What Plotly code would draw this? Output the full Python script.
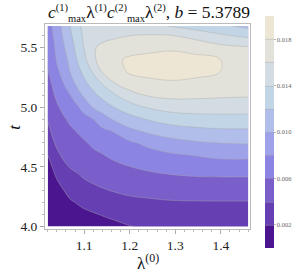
import plotly.graph_objects as go

# lambda^(0) grid (columns) and t grid (rows)
lam0 = [1.02, 1.03, 1.04, 1.055, 1.07, 1.085, 1.10, 1.12, 1.14, 1.17, 1.20, 1.24, 1.29, 1.34, 1.40, 1.46]
t_vals = [4.0, 4.1, 4.2, 4.3, 4.4, 4.5, 4.6, 4.7, 4.8, 4.9, 5.0, 5.1, 5.2, 5.3, 5.4, 5.5, 5.6, 5.68]

# product values, one list per lambda^(0) column (bottom -> top in t)
col_102 = [0.0005, 0.00075, 0.0010, 0.00125, 0.0015, 0.00175, 0.00199, 0.00274, 0.00348, 0.00413, 0.00458, 0.00502, 0.00547, 0.00591, 0.00624, 0.00655, 0.00686, 0.0071]
col_103 = [0.0006, 0.00088, 0.00116, 0.00144, 0.00172, 0.00201, 0.00283, 0.00367, 0.00428, 0.00474, 0.00521, 0.00567, 0.00613, 0.00654, 0.00696, 0.00738, 0.00779, 0.0081]
col_104 = [0.0007, 0.00103, 0.00135, 0.00168, 0.00201, 0.00283, 0.00367, 0.00429, 0.00478, 0.00527, 0.00576, 0.00633, 0.0070, 0.00767, 0.00817, 0.0085, 0.00883, 0.0091]
col_1055 = [0.0008, 0.00119, 0.00157, 0.00196, 0.00278, 0.00365, 0.0043, 0.0048, 0.0053, 0.0058, 0.00646, 0.00723, 0.00801, 0.00861, 0.00921, 0.00982, 0.01028, 0.0106]
col_107 = [0.0009, 0.00136, 0.00182, 0.0025, 0.00333, 0.00411, 0.00464, 0.00517, 0.00571, 0.00637, 0.00718, 0.00801, 0.00914, 0.01013, 0.01065, 0.01117, 0.01169, 0.0121]
col_1085 = [0.0010, 0.00153, 0.00208, 0.00288, 0.00368, 0.00434, 0.00491, 0.00549, 0.00609, 0.00694, 0.00779, 0.00917, 0.01048, 0.01135, 0.01212, 0.01262, 0.01311, 0.0135]
col_110 = [0.0011, 0.00167, 0.00235, 0.00317, 0.00401, 0.0046, 0.00519, 0.00579, 0.00657, 0.00743, 0.00867, 0.01035, 0.01153, 0.01257, 0.01352, 0.01411, 0.01433, 0.0145]
col_112 = [0.0012, 0.00185, 0.00267, 0.00356, 0.00432, 0.00497, 0.00561, 0.00633, 0.00717, 0.00801, 0.01013, 0.01147, 0.01286, 0.01429, 0.01571, 0.0159, 0.0155, 0.0150]
col_114 = [0.0013, 0.00209, 0.00296, 0.00383, 0.00455, 0.00524, 0.00593, 0.00675, 0.00758, 0.00911, 0.01096, 0.01255, 0.01414, 0.0162, 0.0167, 0.0162, 0.0157, 0.0152]
col_117 = [0.0016, 0.00244, 0.00329, 0.00413, 0.00489, 0.00565, 0.00644, 0.00725, 0.0082, 0.01045, 0.01217, 0.01391, 0.0161, 0.0171, 0.0177, 0.0169, 0.0157, 0.0152]
col_120 = [0.00194, 0.00274, 0.00354, 0.00435, 0.00516, 0.00597, 0.00682, 0.00768, 0.00952, 0.01128, 0.0131, 0.01529, 0.01703, 0.0183, 0.0183, 0.01721, 0.01598, 0.0150]
col_124 = [0.0022, 0.00294, 0.00369, 0.00451, 0.00541, 0.00632, 0.00727, 0.00845, 0.01035, 0.01212, 0.01416, 0.01614, 0.01759, 0.01847, 0.01841, 0.01759, 0.01614, 0.0145]
col_129 = [0.0024, 0.00311, 0.00383, 0.0047, 0.00563, 0.00665, 0.00774, 0.00928, 0.01102, 0.01288, 0.01482, 0.0165, 0.0178, 0.0186, 0.0186, 0.01775, 0.01608, 0.0139]
col_134 = [0.0025, 0.00318, 0.00386, 0.00479, 0.00577, 0.00689, 0.00807, 0.00972, 0.01141, 0.0132, 0.01495, 0.01645, 0.01766, 0.01845, 0.01845, 0.01745, 0.01535, 0.0132]
col_140 = [0.0026, 0.00324, 0.00388, 0.0048, 0.0058, 0.00707, 0.00846, 0.01001, 0.01167, 0.01333, 0.01495, 0.01628, 0.0171, 0.01799, 0.01799, 0.01657, 0.01429, 0.0124]
col_146 = [0.0026, 0.00324, 0.00388, 0.0048, 0.0058, 0.00707, 0.0085, 0.01015, 0.01169, 0.01333, 0.01492, 0.0162, 0.0172, 0.0177, 0.0175, 0.0162, 0.0135, 0.0115]

columns = [col_102, col_103, col_104, col_1055, col_107, col_1085, col_110, col_112,
           col_114, col_117, col_120, col_124, col_129, col_134, col_140, col_146]
z_rows = [[col[j] for col in columns] for j in range(len(t_vals))]

band_colors = ["#4a158e", "#6640b3", "#7a5fcb", "#8c84e2", "#9ea2e9",
               "#b0bee9", "#c2d5e6", "#d2dce2", "#e2e2da", "#eee6d4"]
cb_ticks = [0.002, 0.006, 0.010, 0.014, 0.018]
cb_ticktext = ["0.002", "0.006", "0.010", "0.014", "0.018"]

n = len(band_colors)
colorscale = []
for i, c in enumerate(band_colors):
    colorscale.append([i / n, c])
    colorscale.append([(i + 1) / n, c])

serif = "Liberation Serif, Times New Roman, serif"

def sc(s):
    return "<span style='font-size:10.5px'>" + s + "</span>"

title_text = ("<i>c</i><sup>" + sc("(1)") + "</sup><sub>" + sc("max") + "</sub>λ<sup>" + sc("(1)") + "</sup>"
              "<i>c</i><sup>" + sc("(2)") + "</sup><sub>" + sc("max") + "</sub>λ<sup>" + sc("(2)") + "</sup>"
              ", <i>b</i> = 5.3789")

fig = go.Figure(go.Contour(
    x=lam0, y=t_vals, z=z_rows,
    zmin=0.0, zmax=0.020,
    autocontour=False,
    contours=dict(start=0.002, end=0.018, size=0.002, coloring="fill"),
    colorscale=colorscale,
    line=dict(color="rgba(170,170,170,0.6)", width=0.7, smoothing=1.2),
    hoverinfo="skip",
    colorbar=dict(
        x=1.073, xanchor="left", xpad=0, ypad=0,
        y=0.473, yanchor="middle",
        thickness=9, lenmode="pixels", len=232,
        tickmode="array", tickvals=cb_ticks, ticktext=cb_ticktext,
        ticks="outside", ticklen=2, tickcolor="#bbbbbb",
        tickfont=dict(family=serif, size=6.5, color="#666666"),
        outlinewidth=0,
    ),
))

fig.update_layout(
    width=298, height=274,
    margin=dict(l=45, r=48, t=24, b=45, autoexpand=False),
    paper_bgcolor="white", plot_bgcolor="white",
    title=dict(
        text=title_text,
        x=0.5, xanchor="center", y=0.955, yanchor="middle",
        font=dict(family=serif, size=17.5, color="#111111"),
    ),
    xaxis=dict(
        range=[1.014, 1.464], tickvals=[1.1, 1.2, 1.3, 1.4], ticktext=["1.1", "1.2", "1.3", "1.4"],
        ticks="outside", ticklen=4, tickcolor="#aaaaaa",
        minor=dict(dtick=0.02, ticks="outside", ticklen=2, tickcolor="#bbbbbb"),
        showline=True, linecolor="#bbbbbb", linewidth=1, mirror=True,
        showgrid=False, zeroline=False, automargin=False,
        tickfont=dict(family=serif, size=13.5, color="#222222"),
    ),
    yaxis=dict(
        range=[3.979, 5.697], tickvals=[4.0, 4.5, 5.0, 5.5], ticktext=["4.0", "4.5", "5.0", "5.5"],
        ticks="outside", ticklen=4, tickcolor="#aaaaaa",
        minor=dict(dtick=0.1, ticks="outside", ticklen=2, tickcolor="#bbbbbb"),
        showline=True, linecolor="#bbbbbb", linewidth=1, mirror=True,
        showgrid=False, zeroline=False, automargin=False,
        tickfont=dict(family=serif, size=13.5, color="#222222"),
    ),
    annotations=[
        dict(text="λ<sup>(0)</sup>", xref="paper", yref="paper", x=0.5, y=-0.16,
             xanchor="center", yanchor="middle", showarrow=False,
             font=dict(family=serif, size=17, color="#111111")),
        dict(text="<i>t</i>", xref="paper", yref="paper", x=-0.15, y=0.5,
             xanchor="center", yanchor="middle", showarrow=False, textangle=-90,
             font=dict(family=serif, size=17, color="#111111")),
    ],
)

fig.write_html("out.html", config={"displayModeBar": False},
               post_script="document.body.style.margin='0px';document.body.style.overflow='hidden';")
